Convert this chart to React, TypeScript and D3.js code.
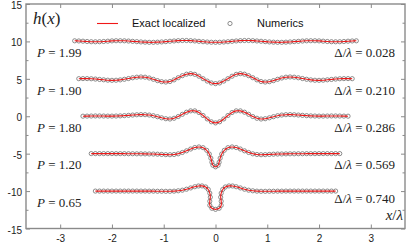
import { useEffect, useRef } from 'react'
import * as d3 from 'd3'

// curve offsets and labels
const offsets = [10, 5, 0, -5, -10]
const pLabels = ['1.99', '1.90', '1.80', '1.20', '0.65']
const deltaLabels = ['0.028', '0.210', '0.286', '0.569', '0.740']

const xTicks = [-3, -2, -1, 0, 1, 2, 3]
const yTicks = [-15, -10, -5, 0, 5, 10, 15]
const yMinorTicks = [-12.5, -7.5, -2.5, 2.5, 7.5, 12.5]

// profiles h(x) - offset ([x, h])
const profile199: [number, number][] = [
  [-2.72, 0.08], [-2.64, 0.06], [-2.56, 0.03], [-2.48, -0.01], [-2.4, -0.04], [-2.32, -0.05], [-2.24, -0.04],
  [-2.16, -0.01], [-2.08, 0.03], [-2, 0.07], [-1.92, 0.09], [-1.84, 0.09], [-1.76, 0.08], [-1.68, 0.05],
  [-1.6, 0.01], [-1.52, -0.03], [-1.44, -0.07], [-1.36, -0.1], [-1.28, -0.12], [-1.2, -0.12], [-1.12, -0.1],
  [-1.04, -0.07], [-0.96, -0.03], [-0.88, 0.02], [-0.8, 0.06], [-0.72, 0.1], [-0.64, 0.12], [-0.56, 0.12],
  [-0.48, 0.1], [-0.4, 0.06], [-0.32, 0.01], [-0.24, -0.04], [-0.16, -0.08], [-0.08, -0.11], [0, -0.12],
  [0.08, -0.11], [0.16, -0.08], [0.24, -0.04], [0.32, 0.01], [0.4, 0.06], [0.48, 0.1], [0.56, 0.12],
  [0.64, 0.12], [0.72, 0.1], [0.8, 0.06], [0.88, 0.02], [0.96, -0.03], [1.04, -0.07], [1.12, -0.1],
  [1.2, -0.12], [1.28, -0.12], [1.36, -0.1], [1.44, -0.07], [1.52, -0.03], [1.6, 0.01], [1.68, 0.05],
  [1.76, 0.08], [1.84, 0.09], [1.92, 0.09], [2, 0.07], [2.08, 0.03], [2.16, -0.01], [2.24, -0.04],
  [2.32, -0.05], [2.4, -0.04], [2.48, -0.01], [2.56, 0.03], [2.64, 0.06], [2.72, 0.08]
]

const profile190: [number, number][] = [
  [-2.64, 0.02], [-2.56, 0.03], [-2.48, 0.03], [-2.4, 0.01], [-2.32, -0.03], [-2.24, -0.08], [-2.16, -0.13],
  [-2.08, -0.18], [-2, -0.2], [-1.92, -0.19], [-1.84, -0.14], [-1.76, -0.06], [-1.68, 0.04], [-1.6, 0.14],
  [-1.52, 0.22], [-1.44, 0.25], [-1.36, 0.22], [-1.28, 0.11], [-1.2, -0.06], [-1.12, -0.24], [-1.04, -0.38],
  [-0.96, -0.43], [-0.88, -0.36], [-0.8, -0.14], [-0.72, 0.15], [-0.64, 0.42], [-0.56, 0.62], [-0.48, 0.69],
  [-0.4, 0.6], [-0.32, 0.35], [-0.24, 0.02], [-0.16, -0.3], [-0.08, -0.55], [0, -0.64],
  [0.08, -0.55], [0.16, -0.3], [0.24, 0.02], [0.32, 0.35], [0.4, 0.6], [0.48, 0.69], [0.56, 0.62],
  [0.64, 0.42], [0.72, 0.15], [0.8, -0.14], [0.88, -0.36], [0.96, -0.43], [1.04, -0.38], [1.12, -0.24],
  [1.2, -0.06], [1.28, 0.11], [1.36, 0.22], [1.44, 0.25], [1.52, 0.22], [1.6, 0.14], [1.68, 0.04],
  [1.76, -0.06], [1.84, -0.14], [1.92, -0.19], [2, -0.2], [2.08, -0.18], [2.16, -0.13], [2.24, -0.08],
  [2.32, -0.03], [2.4, 0.01], [2.48, 0.03], [2.56, 0.03], [2.64, 0.02]
]

const profile180: [number, number][] = [
  [-2.56, 0.01], [-2.48, 0.02], [-2.4, 0.03], [-2.32, 0.04], [-2.24, 0.04], [-2.16, 0.03], [-2.08, 0.02],
  [-2, 0.02], [-1.92, 0.03], [-1.84, 0.05], [-1.76, 0.08], [-1.68, 0.12], [-1.6, 0.16], [-1.52, 0.2],
  [-1.44, 0.22], [-1.36, 0.21], [-1.28, 0.16], [-1.2, 0.07], [-1.12, -0.06], [-1.04, -0.21], [-0.96, -0.33],
  [-0.88, -0.37], [-0.8, -0.27], [-0.72, -0.04], [-0.64, 0.26], [-0.56, 0.54], [-0.48, 0.72], [-0.4, 0.72],
  [-0.32, 0.5], [-0.24, 0.1], [-0.16, -0.36], [-0.08, -0.74], [0, -0.89],
  [0.08, -0.74], [0.16, -0.36], [0.24, 0.1], [0.32, 0.5], [0.4, 0.72], [0.48, 0.72], [0.56, 0.54],
  [0.64, 0.26], [0.72, -0.04], [0.8, -0.27], [0.88, -0.37], [0.96, -0.33], [1.04, -0.21], [1.12, -0.06],
  [1.2, 0.07], [1.28, 0.16], [1.36, 0.21], [1.44, 0.22], [1.52, 0.2], [1.6, 0.16], [1.68, 0.12],
  [1.76, 0.08], [1.84, 0.05], [1.92, 0.03], [2, 0.02], [2.08, 0.02], [2.16, 0.03], [2.24, 0.04],
  [2.32, 0.04], [2.4, 0.03], [2.48, 0.02], [2.56, 0.01]
]

const profile120: [number, number][] = [
  [-2.4, 0.01], [-2.32, 0.01], [-2.24, 0.01], [-2.16, 0.01], [-2.08, 0.01], [-2, 0.01], [-1.92, 0],
  [-1.84, 0], [-1.76, 0], [-1.68, -0.01], [-1.6, -0.01], [-1.52, -0.02], [-1.44, -0.02], [-1.36, -0.03],
  [-1.28, -0.04], [-1.2, -0.05], [-1.12, -0.07], [-1.04, -0.1], [-0.96, -0.13], [-0.88, -0.14], [-0.8, -0.11],
  [-0.72, -0.02], [-0.64, 0.16], [-0.56, 0.38], [-0.48, 0.62], [-0.4, 0.82], [-0.32, 0.9], [-0.24, 0.8],
  [-0.17, 0.45], [-0.12, -0.05], [-0.09, -0.6], [-0.07, -1.15], [-0.05, -1.55], [0, -1.76],
  [0.05, -1.55], [0.07, -1.15], [0.09, -0.6], [0.12, -0.05], [0.17, 0.45], [0.24, 0.8], [0.32, 0.9],
  [0.4, 0.82], [0.48, 0.62], [0.56, 0.38], [0.64, 0.16], [0.72, -0.02], [0.8, -0.11], [0.88, -0.14],
  [0.96, -0.13], [1.04, -0.1], [1.12, -0.07], [1.2, -0.05], [1.28, -0.04], [1.36, -0.03], [1.44, -0.02],
  [1.52, -0.02], [1.6, -0.01], [1.68, -0.01], [1.76, 0], [1.84, 0], [1.92, 0], [2, 0.01], [2.08, 0.01],
  [2.16, 0.01], [2.24, 0.01], [2.32, 0.01], [2.4, 0.01]
]

const profile065: [number, number][] = [
  [-2.32, 0], [-2.24, 0], [-2.16, 0], [-2.08, 0], [-2, 0], [-1.92, 0], [-1.84, 0], [-1.76, 0], [-1.68, 0],
  [-1.6, 0], [-1.52, 0], [-1.44, 0], [-1.36, 0], [-1.28, -0.01], [-1.2, -0.01], [-1.12, -0.02], [-1.04, -0.02],
  [-0.96, -0.03], [-0.88, -0.03], [-0.8, -0.01], [-0.72, 0.04], [-0.64, 0.12], [-0.56, 0.25], [-0.48, 0.42],
  [-0.4, 0.58], [-0.33, 0.68], [-0.26, 0.69], [-0.19, 0.55], [-0.14, 0.22], [-0.11, -0.28], [-0.1, -0.82],
  [-0.11, -1.36], [-0.11, -1.9], [-0.07, -2.3], [0, -2.44],
  [0.07, -2.3], [0.11, -1.9], [0.11, -1.36], [0.1, -0.82], [0.11, -0.28], [0.14, 0.22], [0.19, 0.55],
  [0.26, 0.69], [0.33, 0.68], [0.4, 0.58], [0.48, 0.42], [0.56, 0.25], [0.64, 0.12], [0.72, 0.04],
  [0.8, -0.01], [0.88, -0.03], [0.96, -0.03], [1.04, -0.02], [1.12, -0.02], [1.2, -0.01], [1.28, -0.01],
  [1.36, 0], [1.44, 0], [1.52, 0], [1.6, 0], [1.68, 0], [1.76, 0], [1.84, 0], [1.92, 0], [2, 0],
  [2.08, 0], [2.16, 0], [2.24, 0], [2.32, 0]
]

const profiles = [profile199, profile190, profile180, profile120, profile065]

export default function App() {
  const ref = useRef<SVGSVGElement>(null)

  useEffect(() => {
    draw()
  }, [])

  const draw = () => {
    const svg = d3.select(ref.current)
    svg.selectAll('*').remove()

    const frame = { left: 26, right: 405, top: 4, bottom: 228.5 }
    const gray = '#8a8a8a'
    const serif = '"Liberation Serif", "Times New Roman", serif'
    const sans = '"Liberation Sans", Arial, sans-serif'

    const x = d3.scaleLinear().domain([-3.66, 3.66]).range([frame.left, frame.right])
    const y = d3.scaleLinear().domain([-15, 15]).range([frame.bottom, frame.top])

    // ticks
    const styleAxis = (g: any) => {
      g.select('.domain').remove()
      g.selectAll('line').attr('stroke', gray).attr('stroke-width', 1)
      g.selectAll('text')
        .attr('fill', '#222')
        .style('font-family', sans)
        .style('font-size', '10px')
    }

    svg.append('g')
      .attr('transform', `translate(${frame.left},0)`)
      .call(d3.axisLeft(y).tickValues(yTicks).tickSizeInner(-4).tickSizeOuter(0).tickPadding(4).tickFormat((d: any) => String(d)))
      .call(styleAxis)
      .selectAll('text')
      .attr('dy', '0.45em')
    svg.append('g')
      .attr('transform', `translate(${frame.left},0)`)
      .call(d3.axisLeft(y).tickValues(yMinorTicks).tickSizeInner(-2.5).tickSizeOuter(0).tickFormat(() => ''))
      .call(styleAxis)
    svg.append('g')
      .attr('transform', `translate(${frame.right},0)`)
      .call(d3.axisRight(y).tickValues(yTicks).tickSizeInner(-4).tickSizeOuter(0).tickFormat(() => ''))
      .call(styleAxis)
    svg.append('g')
      .attr('transform', `translate(${frame.right},0)`)
      .call(d3.axisRight(y).tickValues(yMinorTicks).tickSizeInner(-2.5).tickSizeOuter(0).tickFormat(() => ''))
      .call(styleAxis)
    svg.append('g')
      .attr('transform', `translate(0,${frame.bottom})`)
      .call(d3.axisBottom(x).tickValues(xTicks).tickSizeInner(-4).tickSizeOuter(0).tickPadding(6.5).tickFormat((d: any) => String(d)))
      .call(styleAxis)
    svg.append('g')
      .attr('transform', `translate(0,${frame.top})`)
      .call(d3.axisTop(x).tickValues(xTicks).tickSizeInner(-4).tickSizeOuter(0).tickFormat(() => ''))
      .call(styleAxis)

    svg.append('rect')
      .attr('x', frame.left)
      .attr('y', frame.top)
      .attr('width', frame.right - frame.left)
      .attr('height', frame.bottom - frame.top)
      .attr('fill', 'none')
      .attr('stroke', gray)
      .attr('stroke-width', 1.4)

    // curves
    profiles.forEach((pts, i) => {
      const off = offsets[i]
      const line = d3.line<[number, number]>()
        .x(d => x(d[0]))
        .y(d => y(d[1] + off))
        .curve(d3.curveCatmullRom.alpha(0.5))

      svg.append('g')
        .selectAll('circle')
        .data(pts)
        .join('circle')
        .attr('cx', d => x(d[0]))
        .attr('cy', d => y(d[1] + off))
        .attr('r', 2.1)
        .attr('fill', 'none')
        .attr('stroke', '#707070')
        .attr('stroke-width', 0.8)

      svg.append('path')
        .datum(pts)
        .attr('d', line)
        .attr('fill', 'none')
        .attr('stroke', '#f01818')
        .attr('stroke-width', 1.1)

      const ly = y(off - 2.1)
      const pText = svg.append('text')
        .attr('x', 37)
        .attr('y', ly)
        .attr('fill', '#222')
        .style('font-family', serif)
        .style('font-size', '13px')
      pText.append('tspan').style('font-style', 'italic').text('P')
      pText.append('tspan').text(` = ${pLabels[i]}`)

      const dText = svg.append('text')
        .attr('x', 395)
        .attr('y', ly - (i === 4 ? 4 : 0))
        .attr('text-anchor', 'end')
        .attr('fill', '#222')
        .style('font-family', serif)
        .style('font-size', '13px')
      dText.append('tspan').text('Δ/')
      dText.append('tspan').style('font-style', 'italic').text('λ')
      dText.append('tspan').text(` = ${deltaLabels[i]}`)
    })

    // axis titles
    const hLabel = svg.append('text')
      .attr('x', 33)
      .attr('y', 24)
      .attr('fill', '#222')
      .style('font-family', serif)
      .style('font-size', '17px')
    hLabel.append('tspan').style('font-style', 'italic').text('h')
    hLabel.append('tspan').text('(')
    hLabel.append('tspan').style('font-style', 'italic').text('x')
    hLabel.append('tspan').text(')')

    const xLabel = svg.append('text')
      .attr('x', 403)
      .attr('y', 220)
      .attr('text-anchor', 'end')
      .attr('fill', '#222')
      .style('font-family', serif)
      .style('font-size', '15px')
    xLabel.append('tspan').style('font-style', 'italic').text('x')
    xLabel.append('tspan').text('/')
    xLabel.append('tspan').style('font-style', 'italic').text('λ')

    // legend
    svg.append('line')
      .attr('x1', 97).attr('x2', 118)
      .attr('y1', 23.5).attr('y2', 23.5)
      .attr('stroke', '#f01818')
      .attr('stroke-width', 1.1)
    svg.append('text')
      .attr('x', 132)
      .attr('y', 27)
      .attr('fill', '#111')
      .style('font-family', sans)
      .style('font-size', '11px')
      .text('Exact localized')
    svg.append('circle')
      .attr('cx', 230).attr('cy', 23.5)
      .attr('r', 2.1)
      .attr('fill', 'none')
      .attr('stroke', '#707070')
      .attr('stroke-width', 0.8)
    svg.append('text')
      .attr('x', 257)
      .attr('y', 27)
      .attr('fill', '#111')
      .style('font-family', sans)
      .style('font-size', '11px')
      .text('Numerics')
  }

  return (
    <svg ref={ref} width={415} height={250} style={{ position: 'absolute', left: 0, top: 0, background: '#fff' }} />
  )
}
